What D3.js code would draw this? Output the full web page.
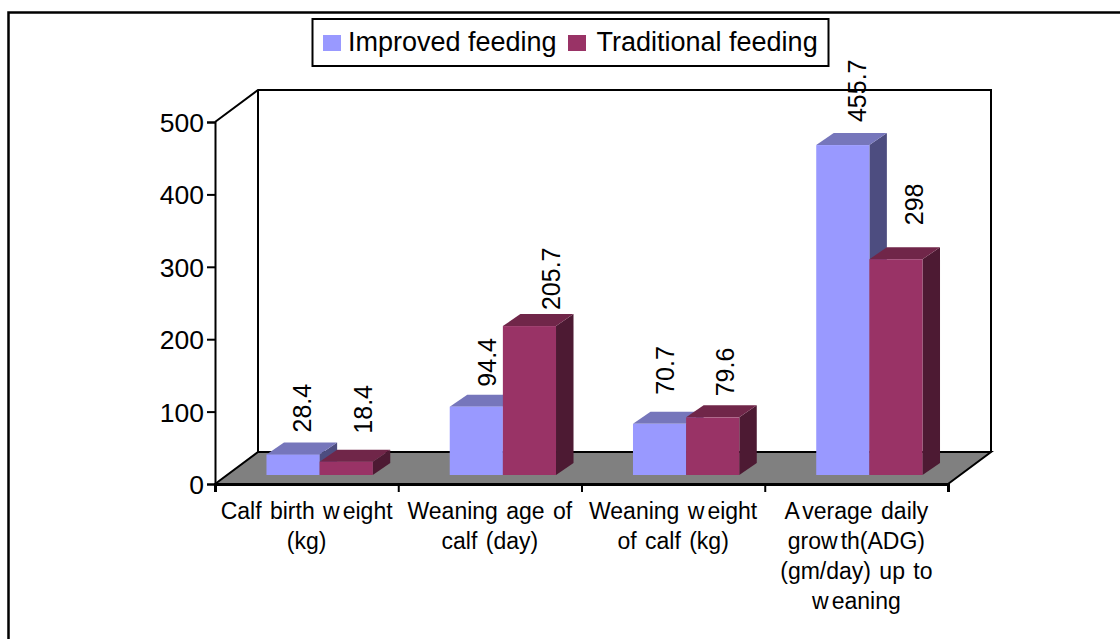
<!DOCTYPE html>
<html><head><meta charset="utf-8">
<script src="https://cdn.jsdelivr.net/npm/d3@7/dist/d3.min.js"></script>
<style>html,body{margin:0;padding:0;background:#fff}svg{display:block}text{font-family:"Liberation Sans",Arial,sans-serif;fill:#000}</style>
</head><body><svg id="c" width="1120" height="639"></svg>
<script>
const categories = [
  ["Calf birth weight","(kg)"],
  ["Weaning age of","calf (day)"],
  ["Weaning weight","of calf (kg)"],
  ["Average daily","growth(ADG)","(gm/day) up to","weaning"]
];
const seriesNames = ["Improved feeding","Traditional feeding"];
const improved = [28.4, 94.4, 70.7, 455.7];
const traditional = [18.4, 205.7, 79.6, 298];
const yTicks = [0,100,200,300,400,500];

const palette = [
  {front:"#9999ff",top:"#7676bb",side:"#4d4d80"},
  {front:"#993366",top:"#702649",side:"#4d1a33"}
];
const L=215,R=948,B=484,T=122,DX=43,DY=32;   // plot frame and its 3D depth
const barDX=17.5,barDY=12,baseLift=9,baseShift=13;
// hand nudges for the rotated labels: [x from bar left, gap above bar back edge]
const labelNudge=[[[36,10],[43,16]],[[37,8],[48,4]],[[32,17],[39,9]],[[41,11],[45,22]]];

const svg=d3.select("#c");
const y=d3.scaleLinear().domain([0,500]).range([B,T]);
const xTick=d3.scaleLinear().domain([0,categories.length]).range([L,R]);
const x0=d3.scaleBand().domain(d3.range(categories.length)).range([L+baseShift,R+baseShift]).paddingInner(0.42).paddingOuter(0.21);
const x1=d3.scaleBand().domain([0,1]).range([0,x0.bandwidth()]);
const baseY=B-baseLift;

// outer frame
svg.append("path").attr("d",d3.line()([[8.5,639],[8.5,12.5],[1120,12.5]])).attr("fill","none").attr("stroke","#000").attr("stroke-width",2.5);

// walls and floor
svg.append("path").attr("d",d3.line()([[L,T],[L+DX,T-DY],[R+DX,T-DY],[R+DX,B-DY]])).attr("fill","none").attr("stroke","#000").attr("stroke-width",2);
svg.append("path").attr("d",d3.line()([[L+DX,T-DY],[L+DX,B-DY]])).attr("fill","none").attr("stroke","#000").attr("stroke-width",2);
svg.append("path").attr("d",d3.line()([[L,B],[R,B],[R+DX,B-DY],[L+DX,B-DY]])+"Z").attr("fill","#808080").attr("stroke","none");
svg.append("path").attr("d",d3.line()([[L,B],[L+DX,B-DY],[R+DX,B-DY],[R,B]])).attr("fill","none").attr("stroke","#000").attr("stroke-width",2);

// axes
const yAxis=svg.append("g").attr("transform",`translate(${L},0)`).call(d3.axisLeft(y).tickValues(yTicks).tickSize(8).tickPadding(3).tickFormat(d3.format("d")));
yAxis.selectAll("path,line").attr("stroke","#000").attr("stroke-width",2);
yAxis.selectAll("text").attr("font-size",26.5).attr("font-family",'"Liberation Sans"').attr("dy","0.36em");
const xAxis=svg.append("g").attr("transform",`translate(0,${B})`).call(d3.axisBottom(xTick).tickValues(d3.range(categories.length+1)).tickSize(8).tickFormat(""));
xAxis.selectAll("path").attr("stroke","#000").attr("stroke-width",3);
xAxis.selectAll("line").attr("stroke","#000").attr("stroke-width",2);

// bars
[improved,traditional].forEach((vals,s)=>{
  vals.forEach((v,i)=>{
    const x=x0(i)+x1(s), w=x1.bandwidth(), top=y(v)-baseLift;
    const g=svg.append("g");
    g.append("path").attr("d",d3.line()([[x+w,top],[x+w+barDX,top-barDY],[x+w+barDX,baseY-barDY],[x+w,baseY]])+"Z").attr("fill",palette[s].side);
    g.append("path").attr("d",d3.line()([[x,top],[x+barDX,top-barDY],[x+w+barDX,top-barDY],[x+w,top]])+"Z").attr("fill",palette[s].top);
    g.append("rect").attr("x",x).attr("y",top).attr("width",w).attr("height",baseY-top).attr("fill",palette[s].front);
  });
});
// value labels
[improved,traditional].forEach((vals,s)=>{
  vals.forEach((v,i)=>{
    const x=x0(i)+x1(s), top=y(v)-baseLift, n=labelNudge[i][s];
    svg.append("text").attr("transform",`translate(${x+n[0]+9},${top-barDY-n[1]}) rotate(-90)`)
      .attr("font-size",25).text(String(v));
  });
});
// category labels: the reference renderer leaves small gaps inside some words
categories.forEach((lines,i)=>{
  const cx=xTick(i+0.5);
  const t=svg.append("text").attr("text-anchor","middle").attr("font-size",23).attr("word-spacing",2);
  lines.forEach((l,j)=>{
    const line=t.append("tspan").attr("x",cx).attr("y",519+j*30);
    l.split(/(?<=w)(?=eight|eaning|th)|(?<=A)(?=verage)/).forEach((part,k)=>{
      line.append("tspan").attr("dx",k?3:null).text(part);
    });
  });
});
// legend
svg.append("rect").attr("x",312.5).attr("y",19).attr("width",516).attr("height",47).attr("fill","#fff").attr("stroke","#000").attr("stroke-width",2);
const lx=[323,568];
seriesNames.forEach((n,i)=>{
  svg.append("rect").attr("x",lx[i]).attr("y",35).attr("width",18).attr("height",16).attr("fill",palette[i].front);
  svg.append("text").attr("x",lx[i]+25+(i?3.5:0)).attr("y",50.5).attr("font-size",27).text(n);
});
</script></body></html>
